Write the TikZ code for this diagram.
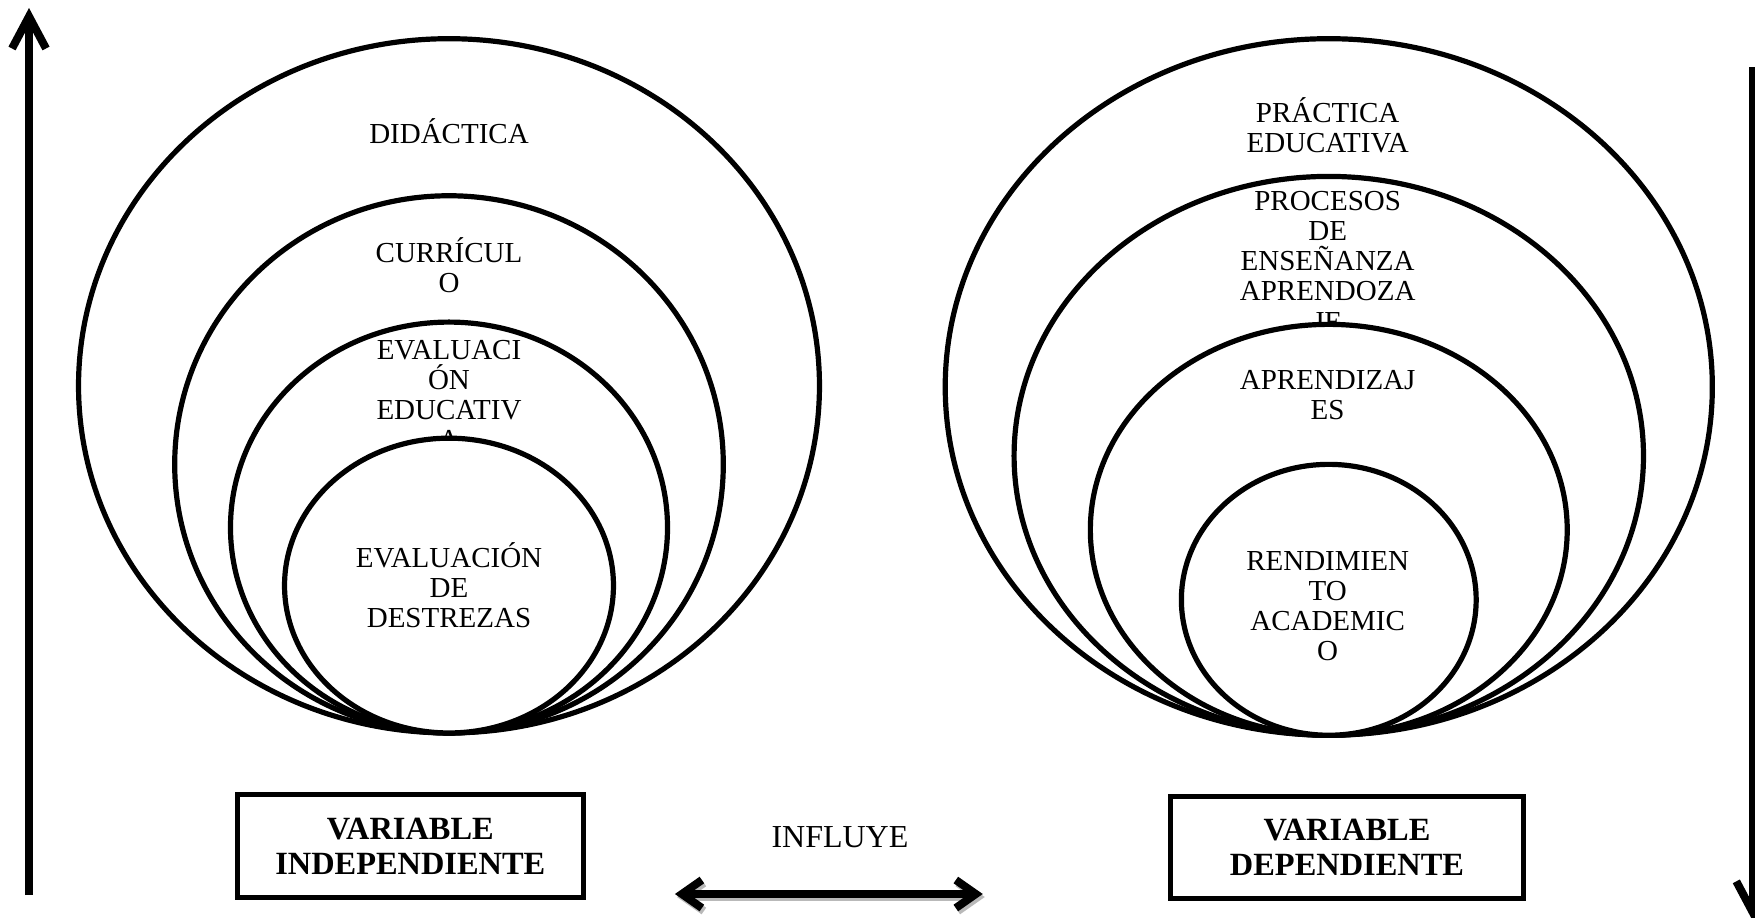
\documentclass[tikz,border=0pt]{standalone}
\usepackage{fontspec}
\setmainfont{Liberation Serif}
\usetikzlibrary{arrows.meta}
\tikzset{
	ring/.style={line width=2.6pt, fill=white},
	lbl/.style={align=center, inner sep=0pt, font=\fontsize{14.5}{15.1}\selectfont},
	varbox/.style={draw, line width=2.5pt, minimum width=6.08cm, minimum height=1.8cm, align=center, font=\fontsize{16.2}{17.5}\selectfont\bfseries},
	axisarrow/.style={line width=4pt, -{Straight Barb[length=16pt,width=17pt]}},
	dblarrow/.style={line width=4pt, {Straight Barb[length=10pt,width=14pt]}-{Straight Barb[length=10pt,width=14pt]}}
}
\begin{document}
\begin{tikzpicture}
	\useasboundingbox (0,0) rectangle (30.84,16.13);
	
	\draw[ring] (7.89,9.35) ellipse (6.51 and 6.10);
	\node[lbl] (didactica) at (7.89,13.83) {DIDÁCTICA};
	\draw[ring] (7.89,7.97) ellipse (4.82 and 4.72);
	\node[lbl] (curriculo) at (7.89,11.47) {CURRÍCUL\\O};
	\draw[ring] (7.89,6.86) ellipse (3.84 and 3.61);
	\node[lbl] (evaleduc) at (7.89,9.19) {EVALUACI\\ÓN\\EDUCATIV\\A};
	\draw[ring] (7.89,5.84) ellipse (2.89 and 2.59);
	\node[lbl] (evaldest) at (7.89,5.85) {EVALUACIÓN\\DE\\DESTREZAS};
	
	\draw[ring] (23.35,9.33) ellipse (6.74 and 6.12);
	\node[lbl] (practica) at (23.33,13.93) {PRÁCTICA\\EDUCATIVA};
	\draw[ring] (23.35,8.12) ellipse (5.53 and 4.91);
	\node[lbl] (procesos) at (23.33,11.54) {PROCESOS\\DE\\ENSEÑANZA\\APRENDOZA\\JE};
	\draw[ring] (23.35,6.82) ellipse (4.19 and 3.61);
	\node[lbl] (aprendizajes) at (23.33,9.19) {APRENDIZAJ\\ES};
	\draw[ring] (23.35,5.59) ellipse (2.59 and 2.38);
	\node[lbl] (rendimiento) at (23.33,5.48) {RENDIMIEN\\TO\\ACADEMIC\\O};
	
	\node[varbox] (indep) at (7.21,1.26) {VARIABLE\\INDEPENDIENTE};
	\node[varbox, minimum width=6.19cm] (dep) at (23.67,1.24) {VARIABLE\\DEPENDIENTE};
	\node[font=\fontsize{16}{17}\selectfont] (influye) at (14.76,1.42) {INFLUYE};
	
	\coordinate (inleft) at (11.86,0.42);
	\coordinate (inright) at (17.27,0.42);
	\draw[dblarrow, gray!55, transform canvas={xshift=1pt,yshift=-1.5pt}] (inleft) -- (inright);
	\draw[dblarrow] (inleft) -- (inright);
	
	\coordinate (lbot) at (0.51,0.40);
	\coordinate (ltop) at (0.51,15.99);
	\draw[axisarrow] (lbot) -- (ltop);
	\coordinate (rtop) at (30.81,14.95);
	\coordinate (rbot) at (30.81,-0.07);
	\draw[axisarrow] (rtop) -- (rbot);
\end{tikzpicture}
\end{document}
